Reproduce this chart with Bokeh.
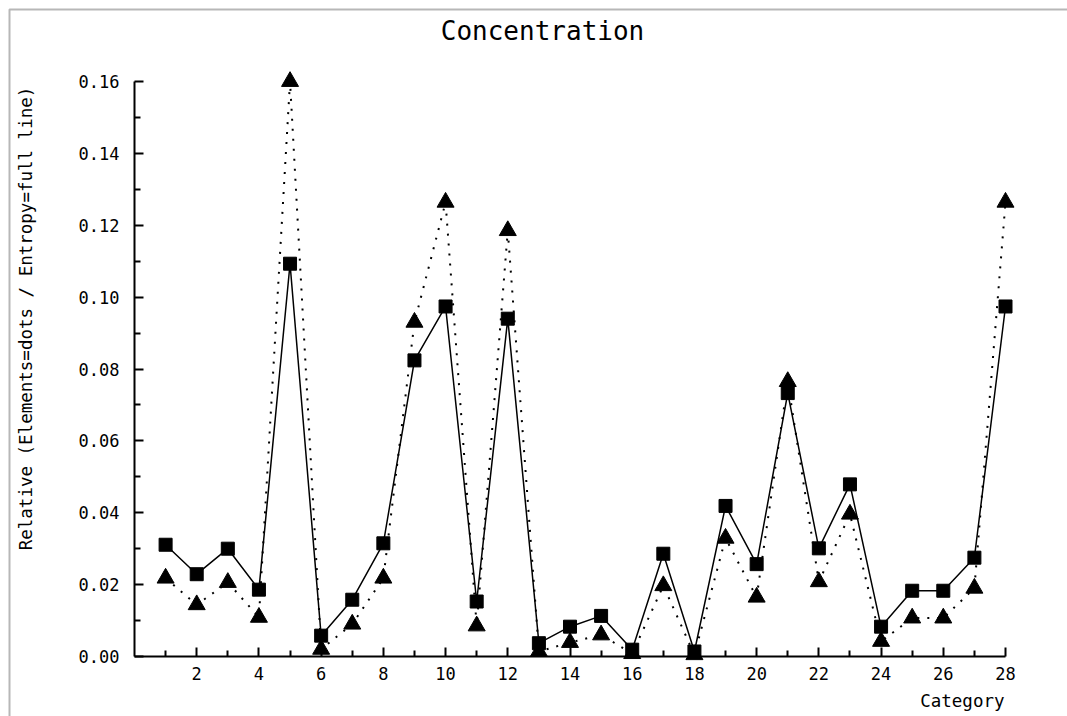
import math
from bokeh.plotting import figure
from bokeh.models import Range1d, FixedTicker, PrintfTickFormatter, Label, ColumnDataSource, BoxAnnotation
from bokeh.embed import file_html
from bokeh.resources import INLINE

# ---- data ----
categories = list(range(1, 29))
entropy = [0.0311, 0.0229, 0.0300, 0.0186, 0.1093, 0.0058, 0.0158, 0.0315, 0.0824, 0.0974,
           0.0153, 0.0940, 0.0037, 0.0083, 0.0113, 0.0019, 0.0286, 0.0014, 0.0419, 0.0257,
           0.0733, 0.0301, 0.0479, 0.0083, 0.0183, 0.0183, 0.0275, 0.0974]
elements = [0.0218, 0.0144, 0.0206, 0.0109, 0.1600, 0.0020, 0.0090, 0.0218, 0.0930, 0.1264,
            0.0085, 0.1185, 0.0014, 0.0039, 0.0060, 0.0008, 0.0197, 0.0005, 0.0329, 0.0165,
            0.0765, 0.0208, 0.0396, 0.0042, 0.0107, 0.0107, 0.0190, 0.1264]
x_major_ticks = list(range(2, 29, 2))
x_minor_ticks = list(range(1, 28, 2))
y_major_ticks = [0.00, 0.02, 0.04, 0.06, 0.08, 0.10, 0.12, 0.14, 0.16]
y_minor_ticks = [0.01, 0.03, 0.05, 0.07, 0.09, 0.11, 0.13, 0.15]
title_text = "Concentration"
y_label_text = "Relative (Elements=dots / Entropy=full line)"
x_label_text = "Category"

FONT = "DejaVu Sans Mono"

# ---- layout geometry (page pixels; canvas fills the window) ----
W, H = 1067, 716
X0_PX, X28_PX = 134.0, 1005.0     # pixel of x=0 and x=28
Y0_PX, Y16_PX = 656.0, 81.0       # pixel of y=0 and y=0.16
xs = (X28_PX - X0_PX) / 28.0
ys = (Y0_PX - Y16_PX) / 0.16


def dx(px):
    return (px - X0_PX) / xs


def dy(py):
    return (Y0_PX - py) / ys


p = figure(width=W, height=H, output_backend="svg", toolbar_location=None,
           x_range=Range1d(dx(0), dx(W)), y_range=Range1d(dy(H), dy(0)),
           min_border_left=0, min_border_right=0, min_border_top=0, min_border_bottom=0)
p.title.visible = False
p.outline_line_color = None
p.grid.visible = False
p.background_fill_color = "white"
p.border_fill_color = "white"

# image frame (top and left edges visible)
p.add_layout(BoxAnnotation(left=dx(9), top=dy(9), right=dx(W + 50), bottom=dy(H + 50),
                           fill_alpha=0, line_color="#111111", line_width=2))

src = ColumnDataSource(dict(x=categories, e=entropy, el=elements))

p.line("x", "el", source=src, line_color="black", line_width=2, line_dash="2 8")
p.line("x", "e", source=src, line_color="black", line_width=1.5)
p.scatter("x", "el", source=src, marker="triangle", size=17, color="black")
p.scatter("x", "e", source=src, marker="square", size=13, color="black")

for ax in (p.xaxis[0], p.yaxis[0]):
    ax.fixed_location = 0
    ax.axis_line_width = 2
    ax.axis_line_color = "black"
    ax.major_tick_line_width = 2
    ax.minor_tick_line_width = 2
    ax.major_tick_line_color = "black"
    ax.minor_tick_line_color = "black"
    ax.major_tick_in = 9
    ax.major_tick_out = 0
    ax.minor_tick_in = 6
    ax.minor_tick_out = 0
    ax.major_label_text_font = FONT
    ax.major_label_text_font_size = "17px"
    ax.major_label_text_color = "black"

p.xaxis.ticker = FixedTicker(ticks=x_major_ticks, minor_ticks=x_minor_ticks)
p.xaxis.bounds = (0, 28)
p.xaxis.major_label_standoff = 10
p.yaxis.ticker = FixedTicker(ticks=y_major_ticks, minor_ticks=y_minor_ticks)
p.yaxis.bounds = (0, 0.16)
p.yaxis.formatter = PrintfTickFormatter(format="%.2f")
p.yaxis.major_label_standoff = 15

# title and axis titles
p.add_layout(Label(x=dx(542), y=dy(30), text=title_text,
                   text_font=FONT, text_font_size="26px",
                   text_align="center", text_baseline="middle", text_color="black"))
p.add_layout(Label(x=dx(25), y=dy(318), text=y_label_text,
                   text_font=FONT, text_font_size="17.5px", text_align="center",
                   text_baseline="middle", angle=math.pi / 2, text_color="black"))
p.add_layout(Label(x=dx(1004), y=dy(700), text=x_label_text,
                   text_font=FONT, text_font_size="17.5px", text_align="right",
                   text_baseline="middle", text_color="black"))

open("out.html", "w").write(file_html(p, INLINE))
